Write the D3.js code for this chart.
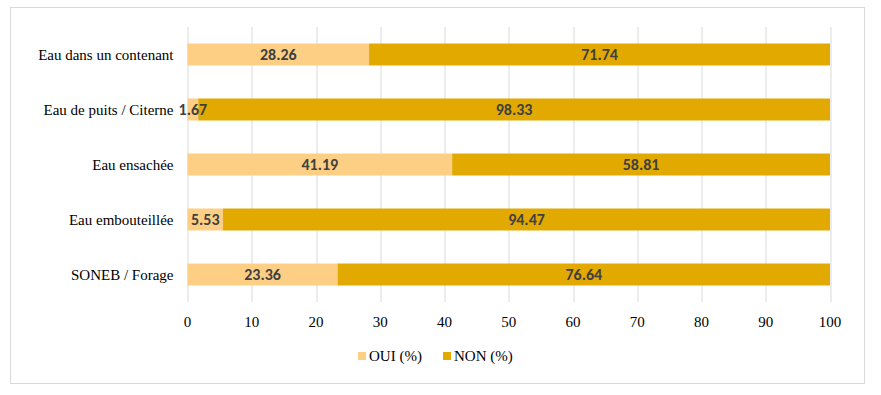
<!DOCTYPE html>
<html>
<head>
<meta charset="utf-8">
<script src="https://cdn.jsdelivr.net/npm/d3@7"></script>
<style>
  body { margin: 0; background: #fff; }
  svg { display: block; }
  .serif { font-family: "Times New Roman", Times, "Liberation Serif", Tinos, "Nimbus Roman", "Nimbus Roman No9 L", "Noto Serif", FreeSerif, "DejaVu Serif", serif; }
  .val { font-family: Carlito, Calibri, Lato, sans-serif; font-weight: bold; }
</style>
</head>
<body>
<svg id="svg" width="881" height="395"></svg>
<script>
// data
const categories = ["Eau dans un contenant", "Eau de puits / Citerne", "Eau ensachée", "Eau embouteillée", "SONEB / Forage"];
const oui = [28.26, 1.67, 41.19, 5.53, 23.36];
const non = [71.74, 98.33, 58.81, 94.47, 76.64];
const seriesNames = ["OUI (%)", "NON (%)"];
const xTicks = [0, 10, 20, 30, 40, 50, 60, 70, 80, 90, 100];

const colors = ["#FDCF85", "#E2A900"];
const padding = { left: 187.5, right: 51, top: 27, bottom: 93 };

const svg = d3.select("#svg");
const width = +svg.attr("width") - padding.left - padding.right;
const height = +svg.attr("height") - padding.top - padding.bottom;

// outer frame
svg.append("rect")
  .attr("x", 10.5).attr("y", 7.5)
  .attr("width", 854).attr("height", 376)
  .attr("fill", "none").attr("stroke", "#d9d9d9");

const g = svg.append("g").attr("transform", "translate(" + padding.left + "," + padding.top + ")");

const x = d3.scaleLinear().domain([0, 100]).range([0, width]);
const y = d3.scaleBand().domain(categories).range([0, height]).paddingInner(0.6).paddingOuter(0.3);

// gridlines
g.selectAll("line.grid").data(xTicks).enter().append("line")
  .attr("class", "grid")
  .attr("x1", d => Math.round(x(d)) + 0.5).attr("x2", d => Math.round(x(d)) + 0.5)
  .attr("y1", 0).attr("y2", height)
  .attr("stroke", "#d9d9d9");

// tick labels
g.selectAll("text.tick").data(xTicks).enter().append("text")
  .attr("class", "tick serif")
  .attr("x", d => x(d)).attr("y", height + 25)
  .attr("text-anchor", "middle")
  .attr("font-size", 15)
  .attr("fill", "#000")
  .text(d => d);

// category labels
g.selectAll("text.cat").data(categories).enter().append("text")
  .attr("class", "cat serif")
  .attr("x", -14).attr("y", d => y(d) + y.bandwidth() / 2)
  .attr("dy", "0.35em")
  .attr("text-anchor", "end")
  .attr("font-size", 15)
  .attr("fill", "#000")
  .text(d => d);

const rows = categories.map((c, i) => ({ cat: c, oui: oui[i], non: non[i] }));
const stack = d3.stack().keys(["oui", "non"])(rows);

stack.forEach((layer, k) => {
  g.append("g").selectAll("rect").data(layer).enter().append("rect")
    .attr("x", d => x(d[0]))
    .attr("y", d => y(d.data.cat))
    .attr("width", d => x(d[1]) - x(d[0]))
    .attr("height", y.bandwidth())
    .attr("fill", colors[k]);
});

stack.forEach((layer, k) => {
  g.append("g").selectAll("text").data(layer).enter().append("text")
    .attr("class", "val")
    .attr("x", d => (x(d[0]) + x(d[1])) / 2)
    .attr("y", d => y(d.data.cat) + y.bandwidth() / 2)
    .attr("dy", "0.36em")
    .attr("text-anchor", "middle")
    .attr("font-size", 16)
    .attr("fill", "#404040")
    .text(d => (d[1] - d[0]).toFixed(2));
});

// legend
const legend = svg.append("g").attr("transform", "translate(358,356)");
const legendX = [0, 85];
seriesNames.forEach((n, i) => {
  legend.append("rect")
    .attr("x", legendX[i]).attr("y", -4)
    .attr("width", 8).attr("height", 8)
    .attr("fill", colors[i]);
  legend.append("text")
    .attr("class", "serif")
    .attr("x", legendX[i] + 11).attr("y", 0)
    .attr("dy", "0.35em")
    .attr("font-size", 15)
    .attr("fill", "#000")
    .text(n);
});
</script>
</body>
</html>
